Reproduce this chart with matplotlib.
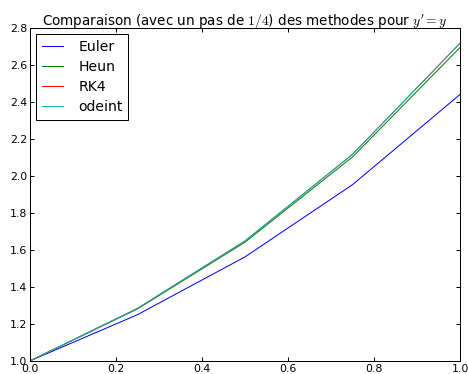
import matplotlib
matplotlib.use("Agg")
import matplotlib.pyplot as plt
import numpy as np

# Data (step h = 1/4)
x = [0.0, 0.25, 0.5, 0.75, 1.0]
euler = [1.0, 1.25, 1.5625, 1.953, 2.441]
heun = [1.0, 1.281, 1.642, 2.103, 2.695]
rk4 = [1.0, 1.284, 1.6487, 2.117, 2.718]
odeint = [1.0, 1.284, 1.6487, 2.117, 2.718]

plt.rcParams['mathtext.fontset'] = 'cm'
plt.rcParams['font.size'] = 11

fig = plt.figure(figsize=(6.5, 374 / 72), dpi=72)
ax = fig.add_axes([0.064, 0.035, 0.919, 0.89])

ax.plot(x, euler, color='#0000ff', lw=1, label='Euler')
ax.plot(x, heun, color='#008000', lw=1, label='Heun')
ax.plot(x, rk4, color='#ff0000', lw=1, label='RK4')
ax.plot(x, odeint, color='#00bfbf', lw=1, label='odeint')

ax.set_xlim(0, 1)
ax.set_ylim(1.0, 2.8)
ax.set_xticks(np.arange(0, 1.01, 0.2))
ax.set_yticks(np.arange(1.0, 2.81, 0.2))
ax.xaxis.set_major_formatter(matplotlib.ticker.FormatStrFormatter('%.1f'))
ax.yaxis.set_major_formatter(matplotlib.ticker.FormatStrFormatter('%.1f'))
ax.tick_params(direction='in', top=True, right=True, length=4, width=1, pad=3, labelsize=11)
for s in ax.spines.values():
    s.set_linewidth(1)
ax.set_title("Comparaison (avec un pas de $1/4$) des methodes pour $y'=y$", fontsize=13.5, pad=3)
leg = ax.legend(loc='upper left', fancybox=False, edgecolor='black', framealpha=1,
                fontsize=14, borderaxespad=0.45, handlelength=1.5, handletextpad=1.1,
                labelspacing=0.43, borderpad=0.4)
leg.get_frame().set_linewidth(1)

fig.savefig("out.png", dpi=72)
